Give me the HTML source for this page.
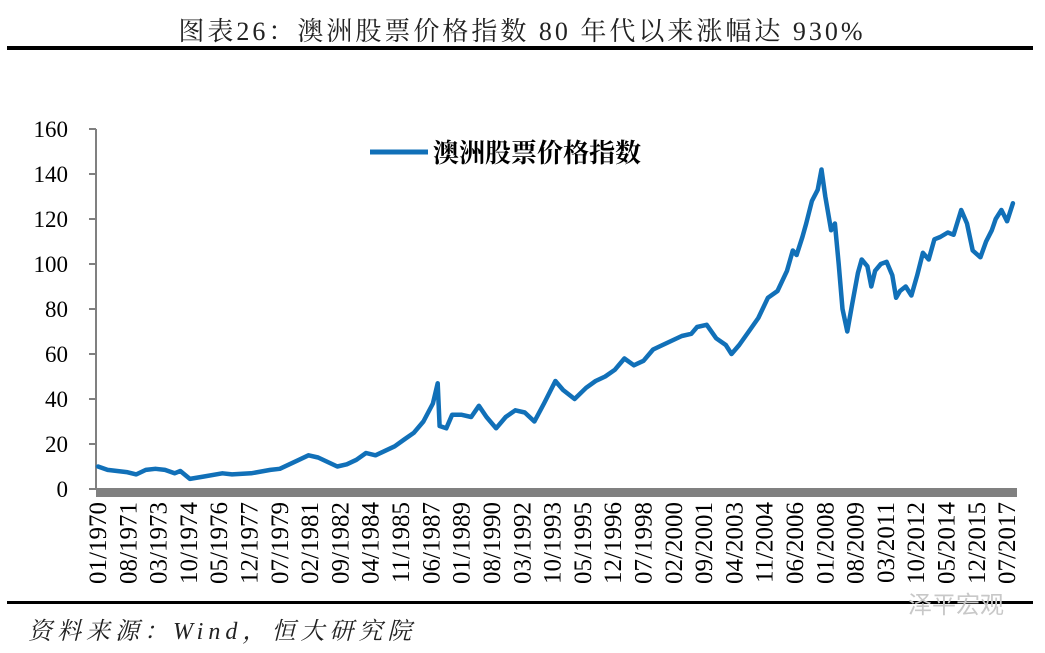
<!DOCTYPE html>
<html><head><meta charset="utf-8"><style>
html,body{margin:0;padding:0;background:#fff;width:1045px;height:653px;overflow:hidden;}
svg{display:block;}
</style></head><body>
<svg width="1045" height="653">
<text x="522" y="40" text-anchor="middle" font-family="'Liberation Serif','Noto Serif CJK SC',serif" font-size="26" letter-spacing="3" fill="#222">图表26：澳洲股票价格指数 80 年代以来涨幅达 930%</text>
<rect x="7" y="46" width="1026" height="4" fill="#000"/>
<rect x="7" y="601" width="1026" height="3" fill="#000"/>
<text x="28" y="639" font-family="'Liberation Serif','Noto Serif CJK SC',serif" font-style="italic" font-size="24" letter-spacing="5" fill="#222">资料来源：Wind，恒大研究院</text>
<text x="908" y="613" font-family="'Liberation Sans','Noto Sans CJK SC',sans-serif" font-size="24" fill="#c8c8c8">泽平宏观</text>
<g id="axes"></g>
<g id="series"></g>
<line x1="370" y1="152" x2="428" y2="152" stroke="#1170B8" stroke-width="5"/>
<text x="433" y="162" font-family="'Noto Serif CJK SC','Noto Sans CJK SC',serif" font-weight="bold" font-size="26" fill="#000">澳洲股票价格指数</text>
</svg>
<script>
const yTicks=[0,20,40,60,80,100,120,140,160];
const xLabels=["01/1970","08/1971","03/1973","10/1974","05/1976","12/1977","07/1979","02/1981","09/1982","04/1984","11/1985","06/1987","01/1989","08/1990","03/1992","10/1993","05/1995","12/1996","07/1998","02/2000","09/2001","04/2003","11/2004","06/2006","01/2008","08/2009","03/2011","10/2012","05/2014","12/2015","07/2017"];
const dates=[1970.0,1970.5,1971.5,1972.0,1972.5,1973.0,1973.5,1974.0,1974.3,1974.8,1975.5,1976.5,1977.0,1978,1979,1979.5,1980,1980.5,1981,1981.5,1982,1982.5,1983,1983.5,1984,1984.5,1985,1985.5,1986,1986.5,1987,1987.5,1987.75,1987.85,1988.2,1988.5,1989,1989.5,1989.9,1990.3,1990.8,1991.3,1991.8,1992.3,1992.8,1993.3,1993.9,1994.3,1994.9,1995.5,1996,1996.5,1997,1997.5,1998,1998.5,1999,1999.5,2000,2000.5,2001,2001.3,2001.8,2002.3,2002.8,2003.1,2003.5,2004,2004.5,2005,2005.5,2006,2006.3,2006.5,2006.8,2007,2007.3,2007.6,2007.8,2008,2008.3,2008.5,2008.7,2008.9,2009.15,2009.4,2009.7,2009.9,2010.2,2010.4,2010.6,2010.9,2011.2,2011.5,2011.7,2011.9,2012.2,2012.5,2012.8,2013.1,2013.4,2013.7,2014,2014.4,2014.7,2015.1,2015.4,2015.7,2016.1,2016.4,2016.7,2016.9,2017.2,2017.5,2017.8];
const values=[10,8.5,7.5,6.5,8.5,9,8.5,7,8,4.5,5.5,7,6.5,7,8.5,9,11,13,15,14,12,10,11,13,16,15,17,19,22,25,30,38,47,28,27,33,33,32,37,32,27,32,35,34,30,38,48,44,40,45,48,50,53,58,55,57,62,64,66,68,69,72,73,67,64,60,64,70,76,85,88,97,106,104,112,118,128,133,142,130,115,118,100,80,70,82,96,102,99,90,97,100,101,95,85,88,90,86,95,105,102,111,112,114,113,124,118,106,103,110,115,120,124,119,127];
const NS='http://www.w3.org/2000/svg';
const x0=98,pxMonth=1.595,yBase=489,pxUnit=2.25;
function xScale(d){return x0+(d-1970)*12*pxMonth;}
function yScale(v){return yBase-v*pxUnit;}
const axes=document.getElementById('axes'),ser=document.getElementById('series');
function mk(tag,attrs,parent){const e=document.createElementNS(NS,tag);for(const k in attrs)e.setAttribute(k,attrs[k]);parent.appendChild(e);return e;}
const ya=mk('line',{x1:96,y1:yScale(160),x2:96,y2:yBase,stroke:'#808080','stroke-width':2},axes);


yTicks.forEach(t=>{
 const tk=mk('line',{x1:89,y1:yScale(t),x2:96,y2:yScale(t),stroke:'#808080','stroke-width':2},axes);
 
 
 const tx=mk('text',{x:68,y:yScale(t)+8,'text-anchor':'end','font-family':'Liberation Serif,serif','font-size':23,fill:'#000'},axes);
 tx.textContent=t;
 
 
});
const xa=mk('rect',{x:96,y:488,width:921,height:9,fill:'#808080'},axes);


xLabels.forEach((l,i)=>{
 const m=+l.slice(0,2),yr=+l.slice(3);
 const x=xScale(yr+(m-1)/12)+8;
 const tx=mk('text',{x:0,y:0,transform:`translate(${x},502) rotate(-90)`,'text-anchor':'end','font-family':'Liberation Serif,serif','font-size':25,fill:'#000'},axes);
 tx.textContent=l;
 
 
});
const pts=dates.map((d,i)=>xScale(d).toFixed(1)+','+yScale(values[i]).toFixed(1)).join(' ');
const pl=mk('polyline',{points:pts,fill:'none',stroke:'#1170B8','stroke-width':4.5,'stroke-linejoin':'round','stroke-linecap':'round'},ser);


</script>
</body></html>
